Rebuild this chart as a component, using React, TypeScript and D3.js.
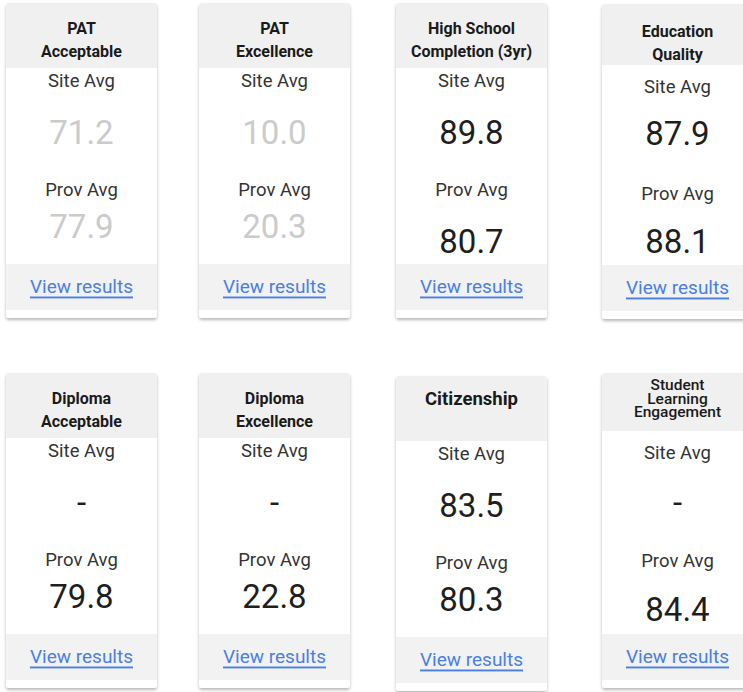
import * as d3 from "d3";

// Card contents
const titles: string[][] = [
  ["PAT", "Acceptable"],
  ["PAT", "Excellence"],
  ["High School", "Completion (3yr)"],
  ["Education", "Quality"],
  ["Diploma", "Acceptable"],
  ["Diploma", "Excellence"],
  ["Citizenship"],
  ["Student", "Learning", "Engagement"],
];
const siteAvg: (number | null)[] = [71.2, 10.0, 89.8, 87.9, null, null, 83.5, null];
const provAvg: number[] = [77.9, 20.3, 80.7, 88.1, 79.8, 22.8, 80.3, 84.4];
// greyed-out cards (values shown light)
const muted: boolean[] = [true, true, false, false, false, false, false, false];
const linkLabel = "View results";

const W = 743;
const H = 692;
const CARD_W = 151;
const CARD_H = 315;
const HEADER_H = 65;

const col = d3.scaleLinear().domain([0, 1, 2, 3]).range([6, 199, 396, 602]);
const row = d3.scaleLinear().domain([0, 1]).range([3, 373]);

// small per-card nudges (layout only)
const provDrop = [0, 0, 15, 14, 0, 0, 0, 13];
const topNudge = [0, 0, 0, 1, 0, 0, 3, 0];
const siteNudge = [0, 0, 0, 5, 0, 0, 0, 2];
const headerH = [65, 65, 65, 61, 65, 65, 65, 58];

function Card({ i }: { i: number }) {
  const x = col(i % 4);
  const y = row(Math.floor(i / 4)) + topNudge[i];
  const cx = x + CARD_W / 2;
  const lines = titles[i];
  const valueColor = muted[i] ? "#cbcbcb" : "#1e1e1e";
  const fmt = d3.format(".1f");
  const titleSize = lines.length === 1 ? 18.5 : lines.length === 3 ? 15.5 : 16;
  const lineH = lines.length === 3 ? 13.5 : 23;
  const titleTop = lines.length === 1 ? 23 : lines.length === 3 ? 12 : 25 + (i === 3 ? 2 : 0);
  const hh = headerH[i];
  return (
    <g>
      <rect x={x} y={y} width={CARD_W} height={CARD_H} rx={3} fill="#fff" filter="url(#shadow)" />
      <path
        d={`M${x},${y + 3}a3,3 0 0 1 3,-3h${CARD_W - 6}a3,3 0 0 1 3,3v${hh - 3}h${-CARD_W}z`}
        fill="#f0f0f0"
      />
      {lines.map((t, k) => (
        <text
          key={k}
          x={cx}
          y={y + titleTop + k * lineH}
          textAnchor="middle"
          dominantBaseline="central"
          fontWeight={lines.length === 3 ? 500 : 700}
          fontSize={titleSize}
          fill="#1a1a1a"
        >
          {t}
        </text>
      ))}
      <text x={cx} y={y + 78 + siteNudge[i]} textAnchor="middle" dominantBaseline="central" fontSize={18.5} fill="#333">
        Site Avg
      </text>
      <text x={cx} y={y + 129} textAnchor="middle" dominantBaseline="central" fontSize={33} fill={valueColor}>
        {siteAvg[i] === null ? "-" : fmt(siteAvg[i] as number)}
      </text>
      <text x={cx} y={y + 187 + siteNudge[i] / 2} textAnchor="middle" dominantBaseline="central" fontSize={18.5} fill="#333">
        Prov Avg
      </text>
      <text
        x={cx}
        y={y + 223 + provDrop[i]}
        textAnchor="middle"
        dominantBaseline="central"
        fontSize={33}
        fill={valueColor}
      >
        {fmt(provAvg[i])}
      </text>
      <rect x={x} y={y + 261} width={CARD_W} height={46} fill="#f2f2f2" />
      <text
        x={cx}
        y={y + 283}
        textAnchor="middle"
        dominantBaseline="central"
        fontSize={19}
        fill="#4a7fe6"
        textDecoration="underline"
      >
        {linkLabel}
      </text>
    </g>
  );
}

export default function App() {
  return (
    <svg
      width={W}
      height={H}
      style={{ position: "absolute", left: 0, top: 0, fontFamily: "Roboto, sans-serif", background: "#fff" }}
    >
      <defs>
        <filter id="shadow" x="-10%" y="-10%" width="120%" height="120%">
          <feDropShadow dx="0" dy="2" stdDeviation="1.8" floodColor="#000" floodOpacity="0.28" />
        </filter>
      </defs>
      {titles.map((_, i) => (
        <Card key={i} i={i} />
      ))}
    </svg>
  );
}
